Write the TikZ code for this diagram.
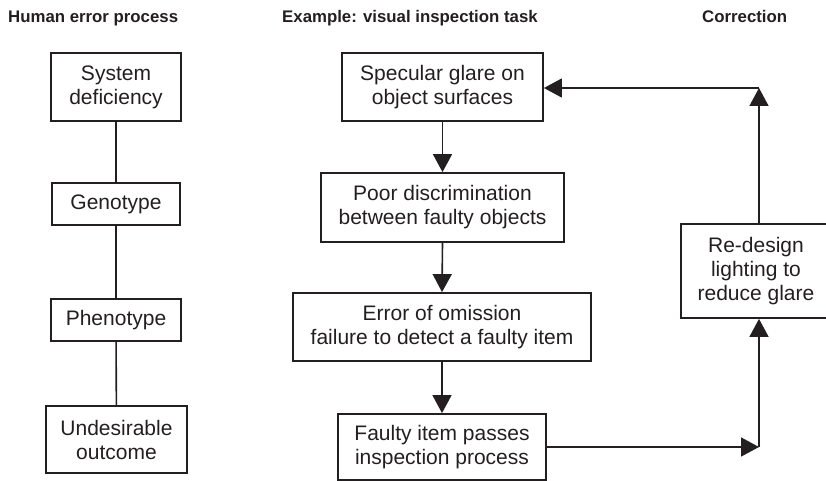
\documentclass[tikz,border=0pt]{standalone}
\usepackage{fontspec}
\setmainfont{Liberation Sans}
\usetikzlibrary{arrows.meta}
\definecolor{ink}{HTML}{231F20}
\begin{document}
\begin{tikzpicture}[x=1pt,y=-1pt,
  box/.style={draw=ink,line width=1.8pt,align=center,inner sep=0pt,text=ink,
    font=\fontsize{21}{24}\selectfont},
  head/.style={anchor=base west,text=ink,inner sep=0pt,font=\fontsize{16.8}{19}\selectfont\bfseries},
  link/.style={draw=ink,line width=1.6pt},
  arr/.style={link,-{Triangle[length=18pt,width=19pt]}}]
\useasboundingbox (0,0) rectangle (826,481);
\begin{scope}
\clip (0,0) rectangle (826,481);
% headers
\node[head] (h1) at (8,23) {Human error process};
\node[head] (h2) at (282,23) {Example: visual inspection task};
\node[head] (h3) at (702,23) {Correction};
% left column
\node[box,minimum width=130pt,minimum height=68pt] (sys) at (116,87) {System\\deficiency};
\node[box,minimum width=128pt,minimum height=42pt] (geno) at (116,204) {Genotype};
\node[box,minimum width=130pt,minimum height=42pt] (pheno) at (116,320) {Phenotype};
\node[box,minimum width=141pt,minimum height=67pt] (undes) at (116.5,439.5) {Undesirable\\outcome};
\draw[link] (sys) -- (geno);
\draw[link] (geno) -- (pheno);
\draw[link] (pheno) -- (undes);
% middle column
\node[box,minimum width=201pt,minimum height=68pt] (spec) at (442.5,87) {Specular glare on\\object surfaces};
\node[box,minimum width=243pt,minimum height=69pt] (poor) at (442.5,207.5) {Poor discrimination\\between faulty objects};
\node[box,minimum width=298pt,minimum height=68pt] (err) at (442,327) {Error of omission\\failure to detect a faulty item};
\node[box,minimum width=208pt,minimum height=66pt] (faulty) at (442,447) {Faulty item passes\\inspection process};
\draw[arr] (spec.south) -- (poor.north);
\draw[arr] (poor.south) -- (err.north);
\draw[arr] (err.south) -- (faulty.north);
% correction
\node[box,minimum width=150pt,minimum height=94pt] (redes) at (756,271) {Re-design\\lighting to\\reduce glare};
\coordinate (c1) at (759,447);
\coordinate (c2) at (759,88);
\draw[arr] (faulty.east) -- (c1);
\draw[arr] (c1) -- (c1 |- redes.south);
\draw[arr] (c2 |- redes.north) -- (c2);
\draw[arr] (c2) -- (c2 -| spec.east);
\end{scope}
\end{tikzpicture}
\end{document}
